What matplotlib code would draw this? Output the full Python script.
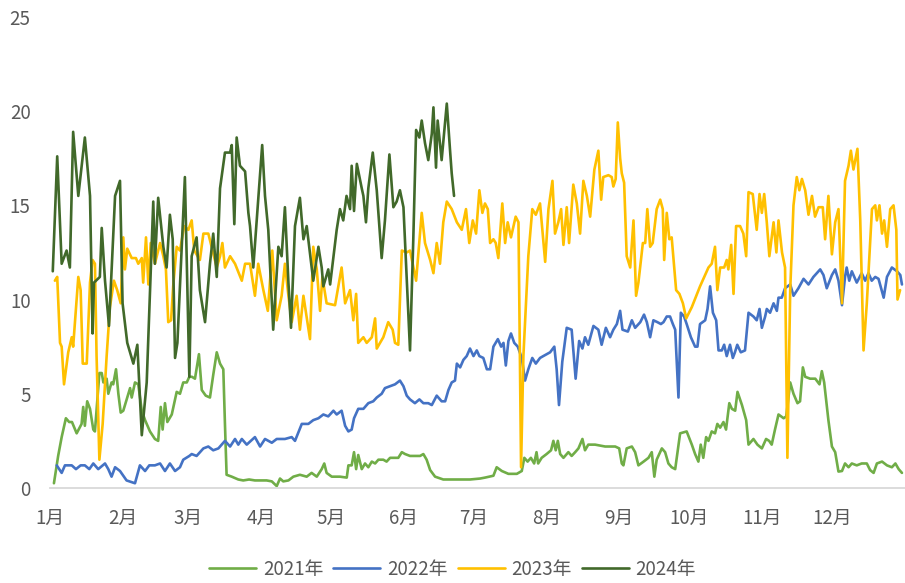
import matplotlib
matplotlib.use("Agg")
import matplotlib.pyplot as plt

plt.rcParams['font.family'] = ['Noto Sans CJK SC', 'DejaVu Sans']

# 横轴为一年中的第几天（1月1日 = 0），纵轴为数值
MONTH_START = [0, 31, 59, 90, 120, 151, 181, 212, 243, 273, 304, 334]
MONTH_LABELS = ['1月', '2月', '3月', '4月', '5月', '6月', '7月', '8月', '9月', '10月', '11月', '12月']
Y_TICKS = [0, 5, 10, 15, 20, 25]

# 2021年
day_2021 = [1.7, 3.5, 5.0, 6.8, 8.2, 9.4, 11.4, 13.5, 14.2, 14.9, 15.9, 17.1, 18.5, 19.2, 21.1, 22.1,
            22.8, 24.2, 24.9, 26.3, 27.0, 28.2, 29.2, 30.2, 31.3, 33.0, 34.2, 34.9, 36.3, 37.7, 39.2,
            40.6, 42.7, 44.8, 46.2, 47.3, 48.1, 49.1, 50.1, 52.0, 54.1, 55.5, 56.9, 58.4, 59.5, 60.6,
            61.9, 63.6, 64.8, 66.5, 68.3, 69.7, 71.2, 72.6, 74.0, 74.7, 75.4, 77.6, 80.4, 82.5, 85.0,
            87.5, 90.4, 92.5, 94.7, 96.8, 98.2, 99.6, 101.8, 103.9, 106.7, 109.6, 111.7, 113.9, 116.0,
            117.1, 118.1, 120.3, 123.8, 126.7, 127.4, 128.8, 129.8, 130.7, 131.6, 133.1, 134.5, 135.9,
            137.4, 138.8, 140.2, 142.3, 143.7, 145.2, 147.3, 148.7, 150.2, 151.6, 153.7, 155.8, 158.0,
            159.4, 160.8, 162.3, 164.4, 167.9, 173.7, 179.3, 183.6, 185.7, 189.3, 190.7, 192.9, 195.7,
            199.3, 201.4, 202.5, 203.9, 205.3, 206.7, 207.7, 208.4, 209.9, 212.0, 213.9, 214.9, 215.9,
            216.8, 217.8, 219.2, 221.3, 222.7, 224.2, 225.6, 227.3, 228.4, 229.8, 232.7, 237.0, 241.3,
            243.0, 244.1, 244.8, 246.2, 248.4, 249.8, 251.2, 253.4, 255.5, 256.9, 258.0, 259.0, 261.2,
            262.6, 264.0, 265.4, 266.9, 269.0, 271.8, 274.0, 275.4, 276.8, 277.8, 278.9, 280.1, 281.1,
            282.5, 283.9, 284.9, 286.1, 287.5, 288.6, 290.0, 291.1, 292.5, 293.5, 295.4, 297.2, 298.2,
            300.3, 302.0, 303.9, 305.7, 307.0, 308.1, 309.5, 311.0, 313.2, 314.3, 316.0, 317.4, 319.1,
            320.2, 321.4, 322.4, 324.5, 326.7, 328.5, 329.5, 330.5, 332.3, 333.8, 335.2, 336.6, 338.1,
            339.4, 340.9, 342.3, 344.4, 346.5, 348.7, 350.1, 351.6, 353.0, 355.2, 357.3, 359.4, 360.9,
            362.3, 363.7]
val_2021 = [0.25, 1.7, 2.7, 3.7, 3.5, 3.5, 2.9, 3.4, 4.3, 3.3, 4.6, 4.2, 3.1, 3.0, 6.1, 6.1,
            5.6, 5.8, 5.0, 5.6, 5.5, 6.3, 5.0, 4.0, 4.1, 4.8, 5.3, 4.8, 5.6, 5.5, 4.1,
            3.6, 3.0, 2.6, 2.5, 4.3, 3.1, 4.5, 3.5, 3.9, 5.1, 5.0, 5.6, 5.6, 5.9, 5.9,
            5.8, 7.1, 5.2, 4.9, 4.8, 6.0, 7.2, 6.6, 6.3, 3.4, 0.7, 0.6, 0.45, 0.4, 0.45,
            0.4, 0.4, 0.4, 0.35, 0.1, 0.5, 0.35, 0.4, 0.6, 0.7, 0.6, 0.8, 0.6, 1.0,
            1.3, 0.8, 0.6, 0.6, 0.55, 1.2, 1.2, 1.9, 1.0, 1.75, 1.0, 1.3, 1.1,
            1.4, 1.3, 1.5, 1.5, 1.4, 1.6, 1.6, 1.6, 1.9, 1.8, 1.7, 1.7, 1.7,
            1.8, 1.5, 0.95, 0.6, 0.45, 0.45, 0.45, 0.5, 0.55, 0.65, 1.1, 0.9, 0.75,
            0.75, 0.9, 1.6, 1.4, 1.6, 1.3, 1.9, 1.3, 1.6, 1.8, 2.0, 2.5, 2.0,
            2.5, 1.8, 1.6, 1.9, 1.7, 1.9, 2.1, 2.6, 2.0, 2.3, 2.3, 2.2, 2.2,
            2.1, 1.3, 1.2, 2.1, 2.2, 1.9, 1.2, 1.4, 1.6, 1.9, 0.6, 1.5, 2.1,
            1.9, 1.3, 1.1, 1.0, 2.9, 3.0, 2.3, 1.8, 1.4, 2.3, 1.6, 2.7, 2.5,
            3.0, 2.9, 3.4, 3.2, 3.5, 3.1, 4.5, 4.2, 4.1, 5.1, 4.4, 3.6, 2.3,
            2.6, 2.3, 2.1, 2.6, 2.5, 2.3, 3.1, 3.9, 3.7, 3.8, 5.6, 5.0, 4.5,
            4.6, 6.4, 5.9, 5.8, 5.8, 5.5, 6.2, 5.6, 3.6, 2.2, 1.9, 0.87, 0.9,
            1.3, 1.1, 1.3, 1.2, 1.3, 1.3, 0.95, 0.8, 1.3, 1.4, 1.2, 1.1, 1.3,
            1.0, 0.8]

# 2022年
day_2022 = [2.9, 5.0, 6.4, 9.3, 11.1, 13.1, 14.9, 16.8, 18.5, 20.6, 23.5, 24.9, 26.3, 27.8, 29.9,
            32.7, 36.3, 38.4, 40.6, 42.4, 44.8, 47.0, 49.1, 51.2, 53.4, 55.5, 56.9, 59.5, 60.5, 62.6,
            65.5, 67.6, 69.7, 71.9, 74.7, 76.9, 79.0, 80.4, 81.9, 84.0, 87.5, 89.7, 91.8, 94.7, 96.8,
            100.3, 103.2, 104.6, 107.5, 110.3, 112.4, 114.6, 116.7, 118.8, 121.0, 122.4, 124.5, 126.0,
            127.4, 128.8, 129.8, 131.6, 133.8, 135.9, 138.0, 139.5, 141.6, 143.0, 145.2, 147.3, 149.4,
            150.9, 152.3, 153.7, 155.8, 157.7, 159.4, 161.5, 163.0, 165.1, 167.2, 168.7, 170.1, 171.5,
            172.9, 173.7, 175.1, 176.5, 177.9, 179.3, 180.8, 182.2, 183.3, 185.0, 186.5, 187.9, 189.3,
            191.2, 192.6, 193.6, 194.6, 195.7, 196.8, 198.2, 199.7, 201.4, 202.8, 204.2, 205.9, 207.4,
            209.2, 210.6, 213.5, 215.3, 216.3, 217.3, 218.7, 220.6, 222.7, 224.4, 225.9, 227.3, 228.4,
            229.8, 232.0, 234.1, 235.5, 237.3, 239.1, 240.5, 242.0, 243.4, 244.4, 246.7, 248.4, 249.8,
            252.0, 253.6, 254.8, 256.2, 257.6, 259.3, 260.8, 261.9, 263.3, 264.7, 265.9, 266.9, 268.3,
            269.3, 270.7, 271.8, 273.6, 275.4, 276.4, 277.5, 279.7, 280.7, 281.8, 283.0, 284.4, 285.4,
            286.8, 287.8, 288.9, 290.3, 291.5, 292.4, 293.4, 294.9, 296.7, 298.2, 300.3, 301.7, 302.9,
            303.9, 305.3, 306.0, 307.4, 308.9, 310.3, 311.0, 312.4, 313.8, 316.0, 317.4, 319.5, 321.7,
            323.8, 325.9, 328.8, 330.2, 331.6, 333.8, 335.2, 336.6, 338.1, 339.4, 340.1, 341.2, 342.3,
            344.4, 346.5, 348.0, 349.4, 350.8, 352.3, 353.7, 355.9, 357.3, 359.4, 361.6, 363.0, 363.7]
val_2022 = [1.2, 0.8, 1.2, 1.2, 1.0, 1.2, 1.2, 1.0, 1.3, 1.0, 1.3, 1.0, 0.6, 1.1, 0.9,
            0.4, 0.25, 1.2, 0.9, 1.2, 1.2, 1.3, 0.9, 1.3, 0.9, 1.1, 1.5, 1.7, 1.8, 1.7,
            2.1, 2.2, 2.0, 2.1, 2.5, 2.2, 2.6, 2.3, 2.6, 2.3, 2.7, 2.2, 2.6, 2.4, 2.6,
            2.6, 2.7, 2.5, 3.4, 3.4, 3.6, 3.7, 3.9, 3.8, 4.1, 3.9, 4.1, 3.3,
            3.0, 3.1, 3.7, 4.2, 4.2, 4.5, 4.6, 4.8, 5.0, 5.3, 5.4, 5.5, 5.7,
            5.4, 4.9, 4.7, 4.5, 4.7, 4.5, 4.5, 4.4, 4.9, 4.6, 4.6, 5.2, 5.6,
            5.7, 6.6, 6.4, 6.8, 7.0, 7.4, 7.0, 7.3, 7.0, 6.9, 6.3, 6.3, 7.5,
            7.9, 7.5, 7.7, 6.5, 7.8, 8.2, 7.7, 7.5, 6.9, 5.7, 6.3, 6.9, 6.6,
            6.9, 7.0, 7.2, 7.5, 6.3, 4.4, 6.7, 8.5, 8.4, 5.8, 7.8, 7.4, 8.0,
            7.6, 8.6, 8.4, 7.6, 8.5, 8.0, 8.4, 8.7, 9.4, 8.4, 8.3, 8.9, 8.5,
            8.8, 9.2, 8.8, 8.0, 8.9, 8.8, 8.7, 8.8, 9.1, 9.1, 8.7, 8.4, 4.8,
            9.3, 9.1, 8.7, 8.0, 7.5, 7.5, 8.7, 8.9, 9.5, 10.7, 9.3, 8.9, 7.3,
            7.3, 7.6, 7.0, 7.6, 6.9, 7.2, 7.6, 7.2, 7.3, 9.3, 9.1, 8.9, 9.5,
            8.5, 9.1, 9.5, 9.3, 9.8, 9.4, 10.1, 10.1, 10.6, 10.8, 10.2, 10.6, 11.1,
            10.8, 11.2, 11.6, 11.3, 10.6, 11.3, 11.6, 11.0, 9.7, 11.2, 11.7, 11.0, 11.5,
            10.9, 11.4, 11.0, 11.4, 11.0, 11.2, 11.1, 10.1, 11.2, 11.7, 11.5, 11.3, 10.8]

# 2023年
day_2023 = [2.1, 3.1, 4.3, 5.0, 6.0, 7.8, 9.3, 9.9, 12.1, 13.1, 14.0, 15.7, 17.1, 18.2, 19.2, 19.9,
            21.1, 22.5, 24.2, 25.6, 27.3, 28.7, 30.2, 31.3, 32.0, 33.0, 34.9, 36.7, 37.7, 39.2, 39.8,
            41.0, 42.0, 43.0, 44.8, 47.0, 48.4, 49.5, 50.5, 51.7, 52.6, 54.1, 55.5, 57.3, 59.1, 60.5,
            61.6, 64.0, 65.5, 67.6, 69.0, 71.2, 72.6, 73.6, 74.7, 76.9, 79.0, 81.9, 83.3, 85.4, 87.5,
            88.9, 91.1, 93.0, 94.9, 96.8, 98.9, 100.3, 101.8, 103.2, 105.3, 106.7, 108.2, 111.0, 112.4,
            113.9, 115.3, 116.3, 118.1, 121.7, 124.5, 126.0, 128.1, 129.5, 130.7, 131.6, 133.8, 135.2,
            137.4, 138.8, 139.5, 142.3, 144.4, 146.3, 147.3, 148.7, 150.2, 152.3, 153.7, 156.3, 158.7,
            160.1, 162.3, 163.7, 165.1, 166.5, 167.9, 169.4, 171.5, 173.7, 175.8, 177.6, 179.0, 180.5,
            181.9, 183.3, 184.6, 185.7, 186.9, 187.9, 189.3, 190.3, 191.4, 193.1, 194.3, 195.4, 196.8,
            198.8, 200.0, 201.1, 202.1, 204.2, 205.9, 207.4, 209.2, 211.4, 212.8, 214.5, 215.6, 217.0,
            218.2, 219.2, 220.6, 221.6, 223.4, 224.9, 226.3, 227.7, 229.2, 230.6, 232.4, 234.1, 235.3,
            236.2, 238.4, 239.8, 240.5, 241.5, 242.4, 243.4, 244.1, 245.1, 246.2, 247.7, 249.1, 250.2,
            251.2, 253.1, 254.1, 255.0, 256.2, 257.3, 259.0, 260.5, 261.6, 262.2, 263.3, 264.4, 265.4,
            267.3, 268.7, 270.2, 271.6, 274.0, 277.5, 281.1, 282.5, 283.9, 284.9, 286.1, 287.8, 288.9,
            289.6, 290.8, 291.8, 292.9, 294.6, 296.0, 297.2, 298.2, 300.0, 301.7, 302.9, 303.9, 304.9,
            306.0, 307.1, 308.9, 310.1, 311.0, 312.5, 313.8, 314.8, 316.0, 317.4, 318.8, 319.9, 321.0,
            322.4, 323.8, 325.3, 326.6, 328.1, 329.9, 330.9, 332.3, 333.8, 335.2, 336.6, 338.1, 339.4,
            340.9, 341.9, 343.0, 344.7, 345.9, 347.3, 348.7, 350.9, 352.3, 353.0, 354.1, 355.2, 356.1,
            357.3, 358.7, 360.1, 361.3, 361.8, 362.9]
val_2023 = [11.0, 11.2, 7.7, 7.5, 5.5, 7.2, 8.0, 7.5, 11.2, 10.5, 6.6, 6.6, 10.9, 12.1, 11.9, 7.0,
            1.5, 3.4, 7.0, 9.6, 11.0, 10.5, 9.8, 13.3, 11.6, 12.7, 12.2, 12.2, 11.9, 12.2, 10.9,
            13.3, 10.8, 13.0, 11.9, 13.0, 12.3, 11.6, 8.8, 8.9, 10.7, 12.8, 12.6, 13.9, 13.7, 14.2,
            12.6, 12.1, 13.5, 13.5, 12.8, 11.7, 12.3, 13.0, 11.7, 12.3, 11.9, 11.0, 11.9, 11.9, 10.2,
            11.9, 10.5, 9.4, 12.6, 8.9, 10.2, 11.9, 10.2, 8.8, 10.2, 8.4, 10.2, 7.9, 12.8,
            11.6, 9.4, 11.2, 9.8, 9.7, 11.7, 9.8, 10.5, 8.9, 10.3, 7.7, 8.0, 7.7,
            8.0, 9.0, 7.4, 8.0, 8.8, 8.4, 7.7, 7.6, 12.6, 12.5, 12.6, 11.0, 14.6,
            13.0, 12.1, 11.4, 13.0, 11.9, 14.1, 15.2, 14.8, 14.1, 13.7, 14.8, 13.0, 14.2,
            13.5, 15.8, 14.6, 15.1, 14.8, 13.0, 13.2, 13.0, 12.2, 15.1, 13.0, 14.1, 13.3,
            14.4, 14.1, 1.1, 7.0, 12.3, 14.8, 14.5, 15.1, 12.0, 14.8, 16.3, 13.5, 14.1,
            14.8, 12.9, 14.9, 13.0, 16.1, 15.1, 13.5, 16.3, 15.5, 14.4, 16.9, 17.9, 15.3,
            16.5, 16.6, 16.5, 16.0, 16.4, 19.4, 17.5, 16.7, 16.2, 12.3, 11.7, 14.2, 10.2,
            10.9, 13.0, 13.0, 14.8, 12.8, 13.0, 14.8, 15.3, 14.8, 12.1, 14.6, 13.2, 13.3,
            10.5, 10.3, 9.8, 9.0, 9.6, 10.7, 11.7, 11.9, 12.8, 10.5, 11.7, 11.7, 12.1,
            11.6, 12.9, 10.3, 13.9, 13.9, 13.5, 12.3, 15.7, 15.6, 13.7, 15.6, 14.6, 15.6,
            14.1, 12.3, 14.1, 12.5, 14.2, 12.5, 11.7, 1.6, 10.5, 15.0, 16.5, 15.8, 16.4,
            15.8, 14.5, 15.5, 14.4, 14.9, 14.9, 13.2, 15.5, 12.4, 14.1, 14.8, 9.8, 16.3,
            17.1, 17.9, 16.9, 18.0, 14.2, 7.3, 9.8, 14.8, 15.0, 14.2, 15.0, 13.5, 14.2,
            12.8, 14.8, 15.0, 13.7, 10.0, 10.5]

# 2024年
day_2024 = [1.2, 3.1, 5.0, 7.1, 8.5, 9.9, 12.1, 14.9, 17.1, 18.2, 18.8, 21.3, 22.1, 23.5, 25.2,
            27.8, 29.9, 31.0, 33.0, 35.6, 37.3, 39.2, 41.3, 44.1, 44.8, 46.2, 48.4, 49.8, 51.2, 52.4,
            53.4, 54.4, 57.6, 59.5, 60.5, 62.6, 64.0, 66.2, 68.3, 69.7, 71.2, 72.6, 74.7, 76.9, 77.6,
            78.7, 79.7, 81.1, 83.3, 84.7, 85.4, 86.8, 88.9, 90.6, 91.8, 93.2, 95.3, 97.5, 98.9, 100.3,
            101.8, 102.9, 104.6, 106.7, 108.2, 109.6, 112.4, 114.6, 116.0, 116.7, 118.8, 119.6, 122.4,
            123.8, 125.2, 126.6, 128.1, 128.8, 129.8, 131.0, 133.1, 133.8, 134.9, 135.9, 137.8, 139.5,
            141.6, 143.0, 144.9, 146.6, 148.0, 149.4, 150.9, 153.7, 155.1, 156.3, 157.7, 158.7, 160.1,
            161.5, 163.0, 163.7, 164.8, 165.5, 167.2, 169.4, 170.8, 171.5, 172.5]
val_2024 = [11.5, 17.6, 11.9, 12.6, 11.7, 18.9, 15.5, 18.6, 15.5, 8.2, 10.9, 11.2, 13.8, 11.0, 8.6,
            15.5, 16.3, 9.8, 7.7, 6.6, 7.6, 2.8, 5.6, 15.2, 11.9, 15.4, 12.8, 11.7, 14.5, 13.2,
            6.9, 7.7, 16.5, 5.9, 12.3, 13.3, 10.5, 8.8, 11.9, 13.5, 11.2, 15.9, 17.8, 17.8, 18.2,
            14.0, 18.6, 17.1, 16.8, 14.6, 13.9, 11.7, 15.3, 18.2, 15.5, 13.7, 8.4, 12.8, 12.3, 14.9,
            10.9, 8.5, 13.9, 15.4, 13.2, 13.9, 11.0, 12.8, 11.7, 10.7, 11.6, 10.8, 13.7,
            14.8, 14.2, 15.5, 14.8, 17.1, 14.7, 17.2, 15.9, 15.5, 14.1, 15.9, 17.8, 15.8,
            12.2, 14.2, 17.7, 14.9, 15.2, 15.8, 14.9, 7.3, 13.2, 19.0, 18.6, 19.5, 18.3,
            17.4, 18.8, 20.2, 17.0, 19.5, 17.4, 20.4, 17.9, 16.7, 15.5]

series = [
    ('2021年', day_2021, val_2021, '#70AD47'),
    ('2022年', day_2022, val_2022, '#4472C4'),
    ('2023年', day_2023, val_2023, '#FFC000'),
    ('2024年', day_2024, val_2024, '#41692A'),
]

fig = plt.figure(figsize=(9.05, 5.83), dpi=100)
ax = fig.add_axes([0.0552, 0.163, 0.9448, 0.808])

for name, d, v, c in series:
    ax.plot(d, v, color=c, linewidth=1.9, label=name,
            solid_joinstyle='round', solid_capstyle='round')

ax.set_xlim(0, 365)
ax.set_ylim(0, 25)
ax.set_xticks(MONTH_START)
ax.set_xticklabels(MONTH_LABELS)
ax.set_yticks(Y_TICKS)

for side in ['top', 'right', 'left']:
    ax.spines[side].set_visible(False)
ax.spines['bottom'].set_color('#D9D9D9')
ax.spines['bottom'].set_linewidth(1.3)

ax.tick_params(axis='both', length=0, labelsize=13.5, labelcolor='#595959')
ax.tick_params(axis='y', pad=14)
ax.tick_params(axis='x', pad=14.5)

leg = fig.legend(loc='center', bbox_to_anchor=(0.5, 0.024), ncol=4, frameon=False,
                 fontsize=13.5, handlelength=2.5, handletextpad=0.35, columnspacing=0.55)
for t in leg.get_texts():
    t.set_color('#595959')

fig.savefig('out.png', dpi=100)
